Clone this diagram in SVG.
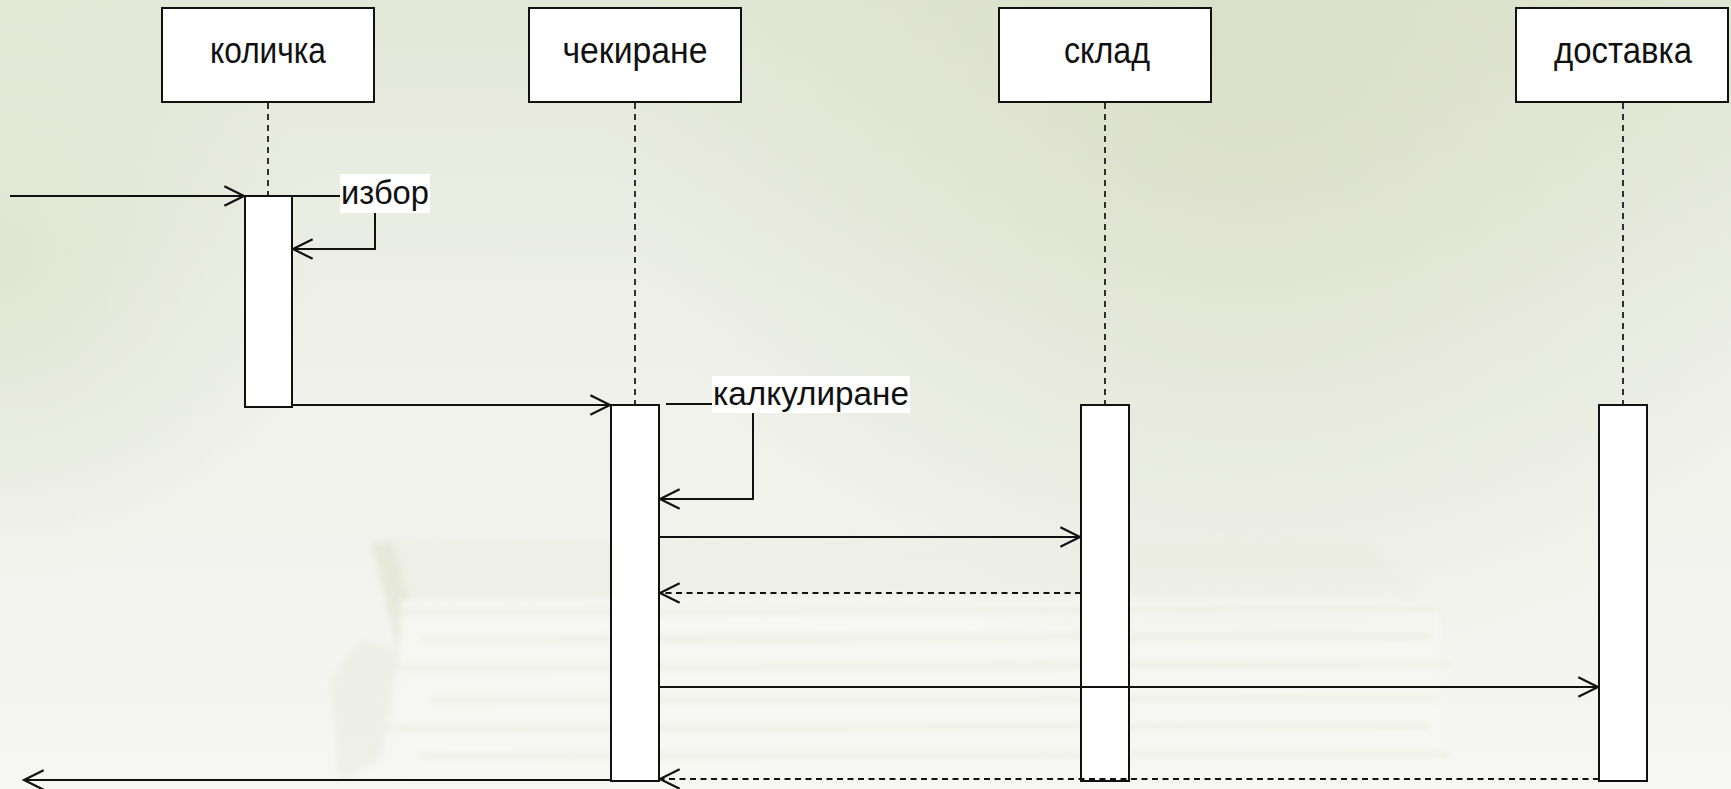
<svg xmlns="http://www.w3.org/2000/svg" width="1731" height="789" viewBox="0 0 1731 789">
  <defs>
    <linearGradient id="bg" x1="0" y1="0" x2="0" y2="1">
      <stop offset="0" stop-color="#e3e7d7"/>
      <stop offset="0.4" stop-color="#eef0e8"/>
      <stop offset="1" stop-color="#f6f6f4"/>
    </linearGradient>
    <radialGradient id="glowTop" cx="1250" cy="40" r="650" gradientUnits="userSpaceOnUse">
      <stop offset="0" stop-color="#d9dec6" stop-opacity="0.9"/>
      <stop offset="1" stop-color="#d9dec6" stop-opacity="0"/>
    </radialGradient>
    <radialGradient id="glowLeft" cx="0" cy="260" r="320" gradientUnits="userSpaceOnUse">
      <stop offset="0" stop-color="#dfe4d0" stop-opacity="0.9"/>
      <stop offset="1" stop-color="#dfe4d0" stop-opacity="0"/>
    </radialGradient>
    <filter id="soft" x="-5%" y="-5%" width="110%" height="110%">
      <feGaussianBlur stdDeviation="3"/>
    </filter>
    <marker id="open" markerUnits="userSpaceOnUse" markerWidth="24" markerHeight="24" viewBox="-20 -11 22 22" refX="0" refY="0" orient="auto" overflow="visible">
      <path d="M-18,-9 L0,0 L-18,9" fill="none" stroke="#111" stroke-width="2"/>
    </marker>
    <style>
      .head { fill: #fff; stroke: #111; stroke-width: 2; }
      .bar { fill: #fff; stroke: #111; stroke-width: 2; }
      .life { stroke: #111; stroke-width: 1.7; stroke-dasharray: 6 5; fill: none; }
      .msg { stroke: #111; stroke-width: 2; fill: none; }
      .call { marker-end: url(#open); }
      .ret { stroke-dasharray: 6 4.5; marker-end: url(#open); }
      .name { font-family: "Liberation Sans", Arial, sans-serif; font-size: 36px; fill: #111; text-anchor: middle; }
      .lbl { font-family: "Liberation Sans", Arial, sans-serif; font-size: 34px; fill: #111; }
      .lblbg { fill: #fff; }
    </style>
  </defs>

  <!-- backdrop: soft green-grey wash with a faded stack of papers -->
  <rect width="1731" height="789" fill="url(#bg)"/>
  <rect width="1731" height="789" fill="url(#glowTop)"/>
  <rect width="1731" height="789" fill="url(#glowLeft)"/>
  <g filter="url(#soft)" opacity="0.6">
    <path d="M370,540 L1370,535 L1420,590 L390,600 Z" fill="#eceee3"/>
    <path d="M372,545 L392,540 L420,640 L398,648 Z" fill="#dfe2cc"/>
    <rect x="400" y="600" width="1040" height="180" fill="#f8f8f4"/>
    <g stroke="#e4e7d6" stroke-width="4">
      <line x1="400" y1="612" x2="1440" y2="608"/>
      <line x1="420" y1="640" x2="1430" y2="636"/>
      <line x1="360" y1="668" x2="1450" y2="664"/>
      <line x1="430" y1="700" x2="1440" y2="698"/>
      <line x1="380" y1="728" x2="1430" y2="726"/>
      <line x1="420" y1="756" x2="1450" y2="754"/>
    </g>
    <path d="M330,680 L360,640 L400,650 L380,760 L340,780 Z" fill="#e9ebdf"/>
  </g>

  <!-- lifeline: количка -->
  <g id="kolichka">
    <rect class="head" x="162" y="8" width="212" height="94"/>
    <text class="name" x="268" y="63" textLength="116" lengthAdjust="spacingAndGlyphs">количка</text>
    <line class="life" x1="268" y1="103" x2="268" y2="196"/>
    <rect class="bar" x="245" y="196" width="47" height="211"/>
  </g>

  <!-- lifeline: чекиране -->
  <g id="chekirane">
    <rect class="head" x="529" y="8" width="212" height="94"/>
    <text class="name" x="635" y="63" textLength="145" lengthAdjust="spacingAndGlyphs">чекиране</text>
    <line class="life" x1="635" y1="103" x2="635" y2="405"/>
    <rect class="bar" x="611" y="405" width="48" height="376"/>
  </g>

  <!-- lifeline: склад -->
  <g id="sklad">
    <rect class="head" x="999" y="8" width="212" height="94"/>
    <text class="name" x="1107" y="63" textLength="86" lengthAdjust="spacingAndGlyphs">склад</text>
    <line class="life" x1="1105" y1="103" x2="1105" y2="405"/>
    <rect class="bar" x="1081" y="405" width="48" height="376"/>
  </g>

  <!-- lifeline: доставка -->
  <g id="dostavka">
    <rect class="head" x="1516" y="8" width="212" height="94"/>
    <text class="name" x="1623" y="63" textLength="138" lengthAdjust="spacingAndGlyphs">доставка</text>
    <line class="life" x1="1623" y1="103" x2="1623" y2="405"/>
    <rect class="bar" x="1599" y="405" width="48" height="376"/>
  </g>

  <!-- messages -->
  <g id="connectors">
    <!-- incoming call into количка -->
    <line class="msg call" x1="10" y1="196" x2="244" y2="196"/>
    <!-- self call: избор -->
    <polyline class="msg" points="292,196 340,196"/>
    <polyline class="msg call" points="375,213 375,249 293,249"/>
    <rect class="lblbg" x="340" y="174" width="90" height="39"/>
    <text class="lbl" x="341" y="204" textLength="88" lengthAdjust="spacingAndGlyphs">избор</text>
    <!-- количка to чекиране -->
    <line class="msg call" x1="292" y1="405" x2="610" y2="405"/>
    <!-- self call: калкулиране -->
    <line class="msg" x1="666" y1="404" x2="712" y2="404"/>
    <polyline class="msg call" points="753,413 753,499 660,499"/>
    <rect class="lblbg" x="712" y="376" width="198" height="37"/>
    <text class="lbl" x="713" y="405" textLength="196" lengthAdjust="spacingAndGlyphs">калкулиране</text>
    <!-- чекиране to склад and reply -->
    <line class="msg call" x1="659" y1="537" x2="1080" y2="537"/>
    <line class="msg ret" x1="1081" y1="593" x2="660" y2="593"/>
    <!-- чекиране to доставка and reply -->
    <line class="msg call" x1="659" y1="687" x2="1598" y2="687"/>
    <line class="msg ret" x1="1599" y1="779" x2="660" y2="779"/>
    <!-- result back out of чекиране -->
    <line class="msg call" x1="611" y1="780" x2="24" y2="780"/>
  </g>
</svg>
